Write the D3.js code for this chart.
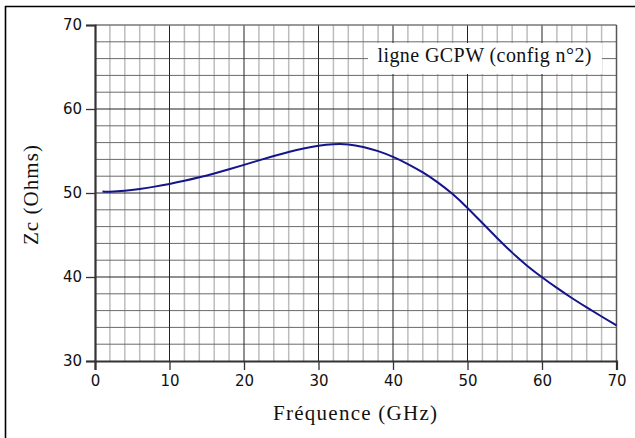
<!DOCTYPE html>
<html><head><meta charset="utf-8">
<script src="https://cdn.jsdelivr.net/npm/d3@7"></script>
<style>body{margin:0;background:#fff;} svg{display:block;}</style>
</head><body>
<svg id="c" width="635" height="438"></svg>
<script>
// Data
const freqGHz = [1, 2, 4, 6, 8, 10, 12, 14, 16, 18, 20, 22, 24, 26, 28, 30, 32, 34, 36, 38, 40, 42, 44, 46, 48, 50, 52, 54, 56, 58, 60, 62, 64, 66, 68, 70];
const zcOhms  = [50.18, 50.16, 50.26, 50.48, 50.76, 51.08, 51.45, 51.87, 52.33, 52.83, 53.35, 53.88, 54.4, 54.88, 55.3, 55.62, 55.8, 55.78, 55.48, 54.98, 54.3, 53.45, 52.45, 51.27, 49.87, 48.22, 46.42, 44.62, 42.9, 41.35, 39.97, 38.7, 37.5, 36.38, 35.3, 34.25];
const xTicks = [0, 10, 20, 30, 40, 50, 60, 70];
const yTicks = [30, 40, 50, 60, 70];
const xTitle = "Fréquence (GHz)";
const yTitle = "Zc (Ohms)";
const legendText = "ligne GCPW (config n°2)";

const svg = d3.select("#c");
const x = d3.scaleLinear().domain([0, 70]).range([95, 616.5]);
const y = d3.scaleLinear().domain([30, 70]).range([361, 25]);

// image frame (left & top)
svg.append("line").attr("x1", 5.5).attr("x2", 5.5).attr("y1", 6).attr("y2", 438).attr("stroke", "#000").attr("stroke-width", 1.6);
svg.append("line").attr("x1", 5).attr("x2", 635).attr("y1", 6.5).attr("y2", 6.5).attr("stroke", "#000").attr("stroke-width", 1.6);

const g = svg.append("g");
const minorX = d3.range(2, 70, 2).filter(v => v % 10 !== 0);
const minorY = d3.range(32, 70, 2).filter(v => v % 10 !== 0);
g.selectAll(".vx").data(minorX).join("line")
  .attr("x1", d => x(d)).attr("x2", d => x(d)).attr("y1", y(70)).attr("y2", y(30))
  .attr("stroke", "#bdbdbd").attr("stroke-width", 1.5);
g.selectAll(".hy").data(minorY).join("line")
  .attr("x1", x(0)).attr("x2", x(70)).attr("y1", d => y(d)).attr("y2", d => y(d))
  .attr("stroke", "#6a6a6a").attr("stroke-width", 1);
g.selectAll(".mx").data(xTicks.slice(1, -1)).join("line")
  .attr("x1", d => x(d)).attr("x2", d => x(d)).attr("y1", y(70)).attr("y2", y(30))
  .attr("stroke", "#222").attr("stroke-width", 1);
g.selectAll(".my").data(yTicks.slice(1, -1)).join("line")
  .attr("x1", x(0)).attr("x2", x(70)).attr("y1", d => y(d)).attr("y2", d => y(d))
  .attr("stroke", "#222").attr("stroke-width", 1);
// top & right edges
g.append("line").attr("x1", x(0)).attr("x2", x(70)).attr("y1", y(70)).attr("y2", y(70)).attr("stroke", "#777").attr("stroke-width", 1.5);
g.append("line").attr("x1", x(70)).attr("x2", x(70)).attr("y1", y(70)).attr("y2", y(30)).attr("stroke", "#555").attr("stroke-width", 1.5);

// legend box
const lg = svg.append("g");
lg.append("rect").attr("x", 368).attr("y", 43).attr("width", 234).attr("height", 31).attr("fill", "#fff");
lg.append("text").attr("x", 377.5).attr("y", 61.5)
  .attr("font-family", "Liberation Serif, serif").attr("font-size", 20).attr("fill", "#111")
  .attr("textLength", 214).attr("lengthAdjust", "spacing").text(legendText);

// axes
const xAxis = d3.axisBottom(x).tickValues(xTicks).tickSize(9).tickPadding(5).tickFormat(d3.format("d"));
const yAxis = d3.axisLeft(y).tickValues(yTicks).tickSize(9).tickPadding(4).tickFormat(d3.format("d"));
const xa = svg.append("g").attr("transform", `translate(0,${y(30)})`).call(xAxis);
const ya = svg.append("g").attr("transform", `translate(${x(0)},0)`).call(yAxis);
[xa, ya].forEach(a => {
  a.select(".domain").attr("stroke", "#333").attr("stroke-width", 2.2);
  a.selectAll(".tick line").attr("stroke", "#333").attr("stroke-width", 1.3);
  a.selectAll(".tick text").attr("font-family", "DejaVu Sans, sans-serif").attr("font-size", 15).attr("fill", "#111");
});

// curve
const line = d3.line().x((d, i) => x(freqGHz[i])).y(d => y(d)).curve(d3.curveNatural);
svg.append("path").datum(zcOhms).attr("d", line).attr("fill", "none")
  .attr("stroke", "#14148c").attr("stroke-width", 2);

// titles
svg.append("text").attr("x", 273).attr("y", 420)
  .attr("font-family", "Liberation Serif, serif").attr("font-size", 21).attr("fill", "#111")
  .attr("textLength", 164).attr("lengthAdjust", "spacing").text(xTitle);
svg.append("text").attr("transform", "translate(38,245) rotate(-90)")
  .attr("font-family", "Liberation Serif, serif").attr("font-size", 21).attr("fill", "#111")
  .attr("textLength", 100).attr("lengthAdjust", "spacing").text(yTitle);
</script>
</body></html>
